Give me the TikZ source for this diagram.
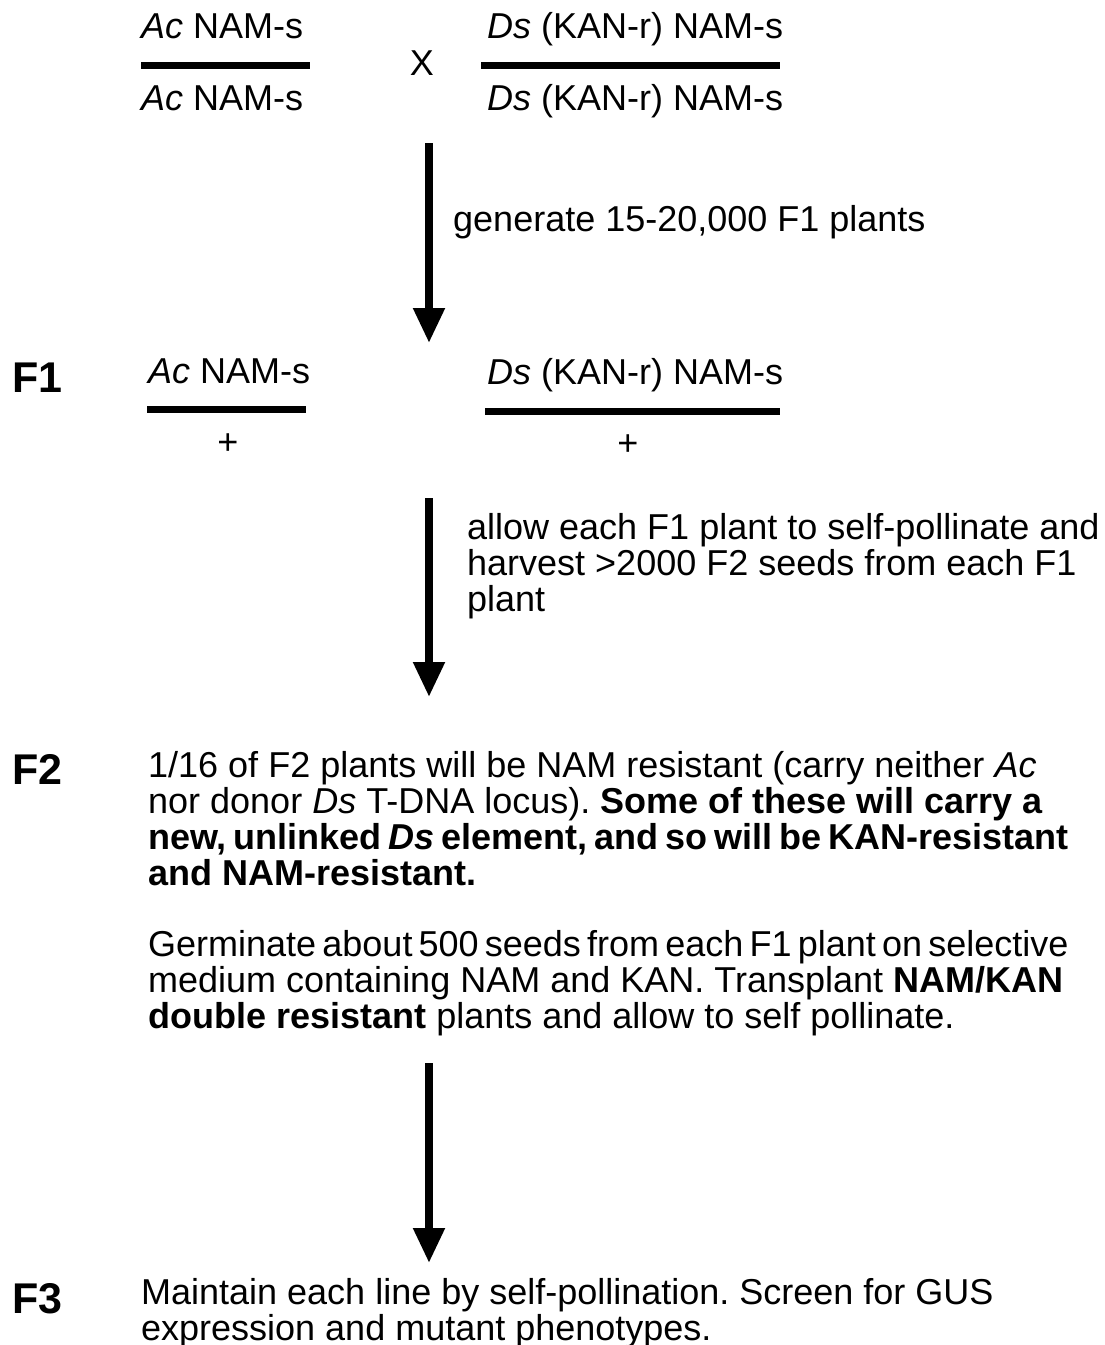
\documentclass[tikz,border=0pt]{standalone}
\usepackage{fontspec}
\setmainfont{Liberation Sans}
\usetikzlibrary{arrows.meta}
\frenchspacing
\begin{document}
\begin{tikzpicture}[x=1pt,y=-1pt,
  txt/.style={font=\fontsize{36}{36}\selectfont\frenchspacing, inner sep=0pt, anchor=base west, align=left},
  ctxt/.style={font=\fontsize{36}{36}\selectfont, inner sep=0pt, anchor=base},
  gen/.style={font=\fontsize{43}{43}\selectfont\bfseries, inner sep=0pt, anchor=base west},
  bar/.style={line width=7pt},
  bigarrow/.style={line width=8pt, -{Triangle[width=30pt,length=35pt]}}]
\useasboundingbox (0,0) rectangle (1104,1345);
% parents
\node[txt] (p1top) at (141,38) {\textit{Ac} NAM-s};
\draw[bar] (141,65) -- (310,65);
\node[txt] (p1bot) at (141,110) {\textit{Ac} NAM-s};
\node[ctxt] (cross) at (422,75) {X};
\node[txt] (p2top) at (487,38) {\textit{Ds} (KAN-r) NAM-s};
\draw[bar] (481,65) -- (780,65);
\node[txt] (p2bot) at (487,110) {\textit{Ds} (KAN-r) NAM-s};
% arrow 1
\coordinate (a1s) at (429,143);
\coordinate (a1e) at (429,343);
\draw[bigarrow] (a1s) -- (a1e);
\node[txt] (l1) at (453,231) {generate 15-20,000 F1 plants};
% F1
\node[gen] (F1) at (12,392) {F1};
\node[txt] (f1a) at (148,383) {\textit{Ac} NAM-s};
\draw[bar] (147,409) -- (306,409);
\node[ctxt] (f1ap) at (228,454) {+};
\node[txt] (f1b) at (487,384) {\textit{Ds} (KAN-r) NAM-s};
\draw[bar] (485,411) -- (780,411);
\node[ctxt] (f1bp) at (628,455) {+};
% arrow 2
\coordinate (a2s) at (429,498);
\coordinate (a2e) at (429,697);
\draw[bigarrow] (a2s) -- (a2e);
\node[txt] (l2) at (467,611) {allow each F1 plant to self-pollinate and\\harvest >2000 F2 seeds from each F1\\plant};
% F2
\node[gen] (F2) at (12,784) {F2};
\node[txt] (f2a) at (148,885) {1/16 of F2 plants will be NAM resistant (carry neither \textit{Ac}\\nor donor \textit{Ds} T-DNA locus). \textbf{Some of these will carry a}\\\spaceskip=6.9pt\relax\textbf{new, unlinked \textit{Ds} element, and so will be KAN-resistant}\\\spaceskip=0pt\relax\textbf{and NAM-resistant.}};
\node[txt] (f2b) at (148,1028) {\spaceskip=6.2pt\relax Germinate about 500 seeds from each F1 plant on selective\\\spaceskip=0pt\relax medium containing NAM and KAN. Transplant \textbf{NAM/KAN}\\\textbf{double resistant} plants and allow to self pollinate.};
% arrow 3
\coordinate (a3s) at (429,1063);
\coordinate (a3e) at (429,1263);
\draw[bigarrow] (a3s) -- (a3e);
% F3
\node[gen] (F3) at (12,1313) {F3};
\node[txt] (f3) at (141,1340) {Maintain each line by self-pollination. Screen for GUS\\expression and mutant phenotypes.};
\end{tikzpicture}
\end{document}
